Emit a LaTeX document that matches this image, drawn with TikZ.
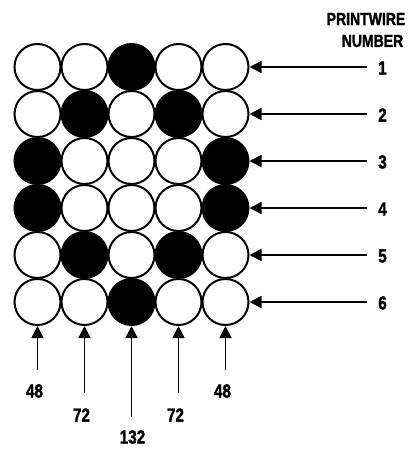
\documentclass[tikz,border=0pt]{standalone}
\usepackage{fontspec}
\setmainfont{Liberation Sans}[FakeStretch=0.8,BoldFeatures={FakeBold=1.5}]
\usetikzlibrary{arrows.meta}
\begin{document}
\begin{tikzpicture}[x=1pt,y=-1pt,
  dot/.style={circle,draw=black,line width=2pt,minimum size=46pt,inner sep=0pt,fill=white},
  blk/.style={dot,fill=black},
  arr/.style={line width=1.5pt,-{Triangle[length=12pt,width=12pt]}},
  lab/.style={font=\fontsize{19}{19}\selectfont\bfseries,inner sep=0pt},
  hdr/.style={font=\fontsize{17.5}{17.5}\selectfont\bfseries,inner sep=0pt}]
\useasboundingbox (0,0) rectangle (408,449);
\foreach \j/\r in {1/{0,0,1,0,0},2/{0,1,0,1,0},3/{1,0,0,0,1},4/{1,0,0,0,1},5/{0,1,0,1,0},6/{0,0,1,0,0}}{
  \foreach \v [count=\i] in \r {
    \ifnum\v=1
      \node[blk] (c-\j-\i) at ({37.5+47*(\i-1)},{67+47*(\j-1)}) {};
    \else
      \node[dot] (c-\j-\i) at ({37.5+47*(\i-1)},{67+47*(\j-1)}) {};
    \fi
  }
}
% header
\node[hdr] (h1) at (366,19) {PRINTWIRE};
\node[hdr] (h2) at (372.5,41) {NUMBER};
% right arrows
\foreach \j in {1,...,6}{
  \coordinate (rt-\j) at (367,{67+47*(\j-1)});
  \node[lab] (rl-\j) at (382.5,{68+47*(\j-1)}) {\j};
  \draw[arr] (rt-\j) -- (c-\j-5);
}
% bottom arrows
\foreach \i/\t/\l/\ly/\dx in {1/370/48/391/-3,2/393/72/415/-3,3/417/132/437/1,4/393/72/415/-3,5/370/48/391/-3}{
  \coordinate (bt-\i) at ({37.5+47*(\i-1)},\t);
  \node[lab] (bl-\i) at ({37.5+47*(\i-1)+\dx},\ly) {\l};
  \draw[arr] (bt-\i) -- (c-6-\i);
}
\end{tikzpicture}
\end{document}
